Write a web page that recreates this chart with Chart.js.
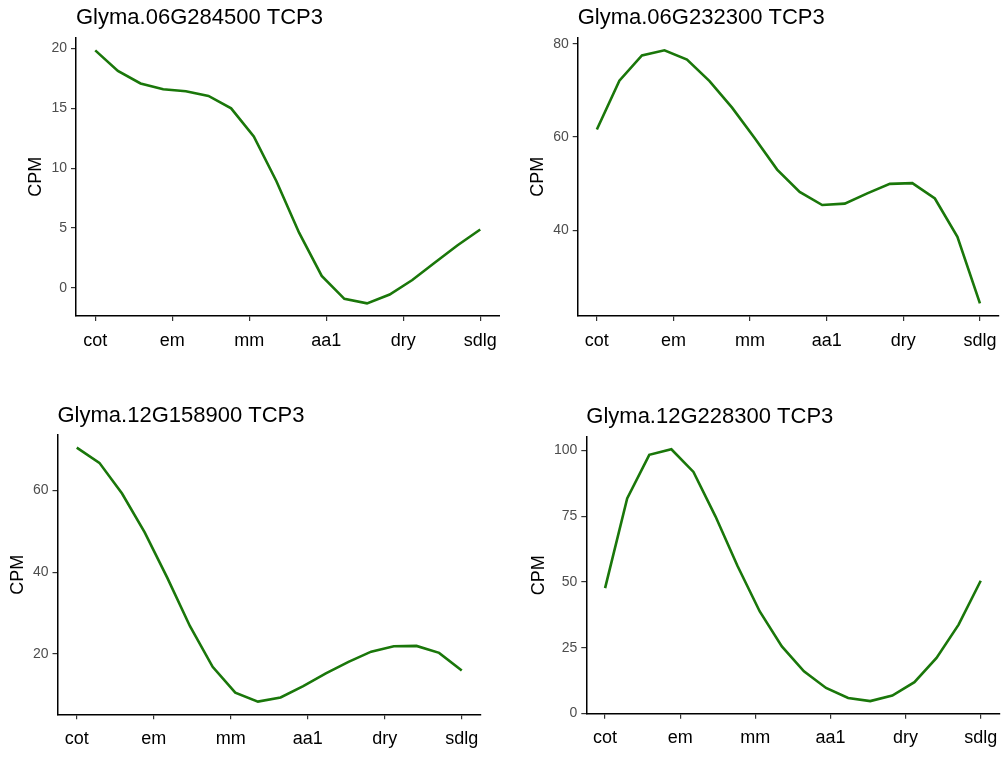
<!DOCTYPE html>
<html>
<head>
<meta charset="utf-8">
<script src="https://cdn.jsdelivr.net/npm/chart.js@4/dist/chart.umd.min.js"></script>
<style>
  html, body { margin: 0; padding: 0; background: #ffffff; }
  #wrap { position: relative; width: 1001px; height: 757px; overflow: hidden; background: #ffffff; }
  #wrap canvas { position: absolute; }
</style>
</head>
<body>
<div id="wrap">
  <canvas id="p1"></canvas>
  <canvas id="p2"></canvas>
  <canvas id="p3"></canvas>
  <canvas id="p4"></canvas>
</div>
<script>
// Developmental stages shown on the x axis
const stages = ['cot', 'em', 'mm', 'aa1', 'dry', 'sdlg'];

// Smoothed expression (CPM) along the stage axis, one array per gene
const cpm_06G284500 = [19.85, 18.13, 17.08, 16.6, 16.43, 16.04, 15.0, 12.65, 8.9, 4.6, 0.98, -0.93, -1.31, -0.57, 0.64, 2.1, 3.55, 4.87];
const cpm_06G232300 = [61.6, 72.1, 77.5, 78.6, 76.6, 72.0, 66.3, 59.8, 53.0, 48.2, 45.4, 45.7, 47.9, 49.95, 50.1, 46.8, 38.6, 24.3];
const cpm_12G158900 = [70.4, 66.7, 59.2, 49.7, 38.6, 26.8, 16.9, 10.6, 8.4, 9.4, 12.2, 15.3, 18.1, 20.6, 21.9, 22.0, 20.3, 16.0];
const cpm_12G228300 = [47.7, 81.8, 98.4, 100.5, 91.9, 74.9, 56.0, 38.8, 25.5, 16.0, 9.7, 5.9, 4.7, 6.8, 11.9, 21.1, 33.8, 50.5];

// y-axis tick values per gene
const yTicks_06G284500 = [0, 5, 10, 15, 20];
const yTicks_06G232300 = [40, 60, 80];
const yTicks_12G158900 = [20, 40, 60];
const yTicks_12G228300 = [0, 25, 50, 75, 100];

// Panel titles
const titles = ['Glyma.06G284500 TCP3', 'Glyma.06G232300 TCP3', 'Glyma.12G158900 TCP3', 'Glyma.12G228300 TCP3'];

const FONT = "'Liberation Sans', Arial, Helvetica, sans-serif";
const GREEN = '#1a770a';

function makePanel(id, box, title, values, yTicks) {
  const cv = document.getElementById(id);
  cv.width = box.w; cv.height = box.h;
  cv.style.left = box.x + 'px'; cv.style.top = box.y + 'px';
  cv.style.width = box.w + 'px'; cv.style.height = box.h + 'px';

  const last = stages.length - 1;
  const step = last / (values.length - 1);
  const pts = values.map((v, i) => ({ x: i * step, y: v }));
  const lo = Math.min(...values), hi = Math.max(...values);
  const yPad = (hi - lo) * 0.05;
  const xPad = last * 0.05;

  const tickGrid = { display: true, drawOnChartArea: false, drawTicks: true, tickLength: 5, color: '#333333', lineWidth: 1.2 };
  const axisLine = { display: true, color: '#000000', width: 1.5 };

  new Chart(cv, {
    type: 'line',
    data: { datasets: [{ data: pts, borderColor: GREEN, borderWidth: 2.6, pointRadius: 0, tension: 0, fill: false }] },
    options: {
      responsive: false,
      animation: false,
      devicePixelRatio: 1,
      layout: { padding: { left: 0, right: box.padRight, top: box.padTop, bottom: box.padBottom } },
      plugins: {
        legend: { display: false },
        tooltip: { enabled: false },
        title: {
          display: true, text: title, align: 'start', fullSize: false, color: '#000000',
          font: { family: FONT, size: 22, weight: 'normal' },
          padding: { top: 5, bottom: 6.3 }
        }
      },
      scales: {
        x: {
          type: 'linear', bounds: 'data', min: -xPad, max: last + xPad,
          afterBuildTicks: s => { s.ticks = stages.map((_, i) => ({ value: i })); },
          afterFit: s => { s.height = 40; s.paddingLeft = 0; s.paddingRight = 0; },
          ticks: { callback: v => stages[v], color: '#000000', font: { family: FONT, size: 18 }, padding: 9, maxRotation: 0, autoSkip: false },
          grid: tickGrid,
          border: axisLine
        },
        y: {
          type: 'linear', bounds: 'data', min: lo - yPad, max: hi + yPad,
          afterBuildTicks: s => { s.ticks = yTicks.map(v => ({ value: v })); },
          afterFit: s => { s.width = box.yW; s.paddingTop = 0; s.paddingBottom = 0; },
          ticks: { callback: v => String(v), color: '#4d4d4d', font: { family: FONT, size: 14 }, padding: 4 },
          title: { display: true, text: 'CPM', color: '#000000', font: { family: FONT, size: 18 }, padding: { top: box.cpmPad, bottom: 0 } },
          grid: tickGrid,
          border: axisLine
        }
      }
    }
  });
}

makePanel('p1', { x: 0,   y: 0,   w: 500, h: 378, padTop: 0,    padBottom: 22,  padRight: 0.5, yW: 76,   cpmPad: 25.5 }, titles[0], cpm_06G284500, yTicks_06G284500);
makePanel('p2', { x: 500, y: 0,   w: 501, h: 378, padTop: 0,    padBottom: 22,  padRight: 1.9, yW: 77.7, cpmPad: 27.5 }, titles[1], cpm_06G232300, yTicks_06G232300);
makePanel('p3', { x: 0,   y: 378, w: 500, h: 379, padTop: 19.3, padBottom: 2.7, padRight: 19,  yW: 57.5, cpmPad: 7 },    titles[2], cpm_12G158900, yTicks_12G158900);
makePanel('p4', { x: 500, y: 378, w: 501, h: 379, padTop: 21.0, padBottom: 3.3, padRight: 1.5, yW: 86.3, cpmPad: 27.8 }, titles[3], cpm_12G228300, yTicks_12G228300);
</script>
</body>
</html>
